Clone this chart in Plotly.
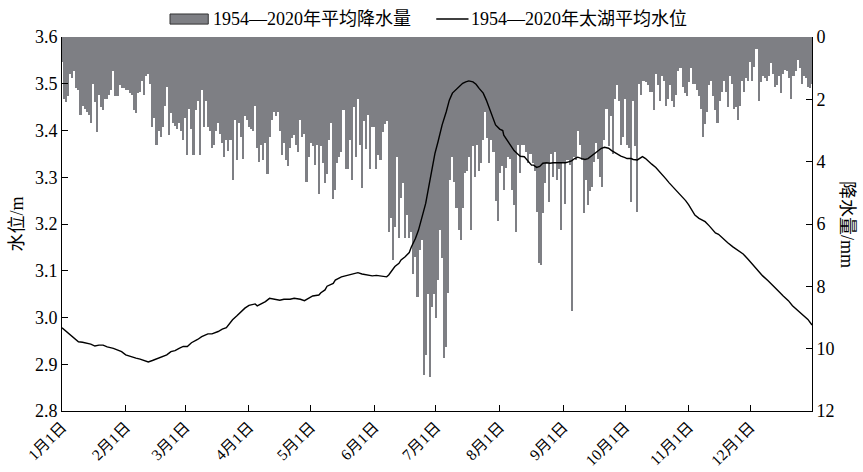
import plotly.graph_objects as go

# Daily mean precipitation (mm), day-of-year 1..366
precip = [
    0.8, 2.0, 2.1, 1.9, 1.2, 1.3, 1.1, 1.65, 1.7, 2.5,
    2.2, 2.3, 2.4, 2.5, 2.75, 1.5, 2.1, 3.05, 1.85, 2.25,
    2.35, 2.0, 2.0, 1.85, 1.7, 1.1, 1.9, 1.9, 1.55, 1.65,
    1.65, 1.7, 1.7, 1.8, 1.85, 2.35, 2.45, 1.8, 1.75, 1.4,
    1.85, 1.25, 1.2, 1.5, 2.9, 2.6, 3.45,
    3.0, 3.2, 2.9, 2.2, 1.6, 3.15, 2.45, 2.75, 2.85, 2.95,
    2.75, 3.0, 3.3, 2.6, 3.8, 2.3, 2.95, 3.8, 2.35,
    2.05, 3.8, 1.7, 2.9, 2.05, 2.9, 3.0, 3.55, 3.45, 3.0,
    2.75, 3.1, 3.4, 3.85, 3.3, 3.65, 3.3, 4.6, 2.65, 3.95,
    2.75, 3.2, 3.9, 2.55, 2.65, 2.9,
    2.95, 3.0, 2.2, 3.55, 4.0, 3.45, 3.95, 3.4, 4.4, 3.2,
    2.65, 2.4, 2.55, 2.4, 3.0, 3.8, 3.4, 3.95, 4.15, 3.55,
    3.25, 3.15, 3.45, 3.7, 2.65, 3.2, 3.1, 4.65, 3.85, 3.4,
    3.5, 4.1, 3.45, 5.05, 3.5, 4.05, 4.7, 4.4, 3.3, 2.75,
    5.2, 4.9, 4.05, 3.85, 3.7, 2.35,
    4.25, 4.25, 3.3, 4.6, 2.25, 3.85, 2.0, 3.45, 4.85, 2.7,
    3.6, 2.5, 4.25, 2.9, 2.9, 4.25, 3.8, 3.95, 3.05, 2.8,
    2.7, 6.25, 5.8, 7.15, 6.1, 3.85, 6.45, 5.15, 4.7, 6.45,
    5.7, 6.45, 6.25, 7.6, 7.05, 8.35, 6.85, 6.5, 10.85, 10.2,
    8.25, 10.9, 8.65, 8.25, 9.0, 7.8,
    6.2, 7.1, 10.3, 9.95, 8.2, 4.6, 3.85, 4.65, 5.5, 6.2,
    6.5, 5.5, 4.35, 4.3, 3.85, 6.2, 3.5, 4.5, 3.45,
    4.3, 4.05, 3.3, 2.4, 3.25, 4.05, 3.3, 3.7, 5.25, 5.9,
    4.35, 4.15, 4.9, 4.2, 3.85, 3.9, 4.9, 5.4, 6.25, 3.45,
    4.35, 3.45, 3.45, 3.7, 4.05,
    3.75, 4.05, 4.3, 5.6, 7.25, 7.3, 5.65, 4.7, 4.0, 5.3,
    3.75, 4.5, 3.7, 4.6, 4.25, 6.2, 4.05, 5.35, 3.95, 4.1,
    8.8, 3.85, 3.95, 3.0, 3.45, 3.95, 5.65, 4.6, 5.4, 4.95,
    4.8, 4.0, 3.4, 3.9, 4.5, 4.8, 3.3, 2.3, 3.5, 2.55,
    3.75, 2.0, 1.55, 2.05, 3.45, 3.2, 2.0,
    3.45, 3.55, 5.3, 2.05, 3.5, 5.6, 1.5, 1.85, 1.4, 1.45,
    1.55, 1.75, 1.75, 2.35, 1.2, 1.55, 2.05, 1.25, 1.4, 2.2,
    2.0, 1.55, 2.05, 2.25, 1.85, 1.1, 1.0, 1.6, 1.8, 1.9,
    1.45, 1.0, 1.5, 1.5, 1.7, 1.9, 2.3, 3.2, 2.8, 2.4,
    1.55, 1.4, 1.9, 2.35, 2.75, 2.05,
    1.75, 1.4, 1.75, 2.25, 1.25, 1.5, 2.3, 2.25, 2.65, 2.2,
    1.4, 1.75, 1.3, 1.4, 0.8, 1.4, 0.95, 0.4, 2.05,
    1.45, 1.25, 1.3, 1.4, 1.25, 0.85, 1.2, 1.6, 1.55, 1.25,
    1.8, 1.2, 1.05, 1.1, 1.3, 2.0, 1.25, 1.1, 0.75, 1.0,
    1.5, 1.25, 1.3, 1.6, 1.65, 1.5,
]
precip_days = list(range(1, len(precip) + 1))

# Mean Taihu water level (m) by day-of-year
level_days = [
    1, 3, 6, 9, 11, 13, 15, 17, 19, 21, 23, 26, 28, 30, 32, 35, 37, 39, 41, 43,
    45, 48, 51, 52, 54, 56, 58, 60, 62, 64, 67, 69, 72, 74, 77, 79, 81, 82, 84, 86,
    88, 90, 92, 93, 95, 96, 98, 100, 102, 104, 107, 109, 112, 114, 117, 119, 121, 123, 126, 127,
    129, 130, 133, 134, 137, 140, 142, 145, 147, 149, 152, 154, 157, 159, 160, 162, 163, 165, 166, 168,
    170, 171, 173, 174.5, 176, 178, 179.5, 181, 182.5, 184, 186, 188, 189.5, 191, 193, 194, 196, 197.5, 199, 201,
    202.5, 204, 206, 207.5, 209, 210.5, 212, 214, 215.5, 216, 218, 219.5, 221, 222.5, 224, 226, 227.5, 229.5, 230.5, 232,
    233.5, 235, 237, 238.5, 240, 242, 244, 246, 247.5, 249, 250.5, 252, 254, 255.5, 257, 258.5, 260, 262, 263.5, 265,
    267, 268.5, 270, 271.5, 273, 275, 276, 278, 279, 281, 282, 283.5, 285, 286.5, 288, 290, 291.5, 293, 295, 296.5,
    298, 299.5, 301, 303, 304.5, 306, 307.5, 309, 311, 312.5, 314, 316, 317.5, 319, 320.5, 322.5, 325, 327.5, 330, 332.5,
    335, 337.5, 340, 342, 344.5, 347, 349.5, 352, 354.5, 356.5, 359, 361.5, 364, 366,
]
level = [
    2.978, 2.970, 2.959, 2.948, 2.947, 2.945, 2.943, 2.939, 2.941, 2.941, 2.937, 2.934, 2.930, 2.927, 2.920, 2.915, 2.913, 2.911, 2.908, 2.905,
    2.908, 2.913, 2.918, 2.920, 2.927, 2.929, 2.934, 2.938, 2.938, 2.946, 2.953, 2.959, 2.965, 2.965, 2.970, 2.975, 2.978, 2.984, 2.995, 3.003,
    3.012, 3.020, 3.026, 3.027, 3.029, 3.025, 3.029, 3.034, 3.041, 3.039, 3.037, 3.039, 3.039, 3.041, 3.039, 3.036, 3.041, 3.046, 3.048, 3.053,
    3.059, 3.067, 3.073, 3.080, 3.087, 3.091, 3.093, 3.096, 3.093, 3.091, 3.089, 3.090, 3.089, 3.087, 3.091, 3.103, 3.109, 3.116, 3.123, 3.130,
    3.139, 3.151, 3.169, 3.187, 3.212, 3.244, 3.280, 3.316, 3.351, 3.376, 3.412, 3.440, 3.465, 3.480, 3.488, 3.494, 3.501, 3.504, 3.506, 3.504,
    3.499, 3.490, 3.480, 3.465, 3.447, 3.430, 3.412, 3.403, 3.400, 3.390, 3.376, 3.365, 3.357, 3.351, 3.345, 3.344, 3.337, 3.326, 3.326, 3.321,
    3.323, 3.330, 3.331, 3.330, 3.331, 3.331, 3.330, 3.331, 3.333, 3.335, 3.340, 3.343, 3.340, 3.338, 3.340, 3.345, 3.351, 3.357, 3.362, 3.364,
    3.362, 3.357, 3.353, 3.350, 3.345, 3.342, 3.340, 3.340, 3.338, 3.337, 3.340, 3.344, 3.340, 3.333, 3.328, 3.321, 3.314, 3.305, 3.296, 3.288,
    3.281, 3.274, 3.267, 3.258, 3.250, 3.241, 3.230, 3.219, 3.212, 3.209, 3.205, 3.196, 3.189, 3.181, 3.178, 3.169, 3.160, 3.151, 3.143, 3.136,
    3.124, 3.112, 3.098, 3.089, 3.079, 3.067, 3.057, 3.046, 3.036, 3.025, 3.016, 3.007, 2.996, 2.984,
]

# Month-start ticks (leap-year day numbers)
month_days = [1, 32, 61, 92, 122, 153, 183, 214, 245, 275, 306, 336]
month_labels = [f"{m}月1日" for m in range(1, 13)]

level_ticks = [2.8, 2.9, 3.0, 3.1, 3.2, 3.3, 3.4, 3.5, 3.6]
precip_ticks = [0, 2, 4, 6, 8, 10, 12]

precip_name = "1954—2020年平均降水量"
level_name = "1954—2020年太湖平均水位"

FONT = "Liberation Serif, Times New Roman, Noto Sans CJK SC, serif"
BAR_COLOR = "#7e7f84"
FS = 18

fig = go.Figure()
fig.add_trace(go.Bar(
    x=precip_days, y=precip, name=precip_name,
    marker=dict(color=BAR_COLOR, line=dict(width=0)),
    width=1.0, yaxis="y", showlegend=False,
))
fig.add_trace(go.Scatter(
    x=level_days, y=level, name=level_name,
    mode="lines", line=dict(color="black", width=1.4),
    yaxis="y2", showlegend=False,
))

# Key above the plot: swatch + label for each series
LEG_Y = 1.048
shapes = [
    dict(type="rect", xref="paper", yref="paper",
         x0=0.144, x1=0.195, y0=LEG_Y - 0.0135, y1=LEG_Y + 0.0135,
         fillcolor=BAR_COLOR, line=dict(color="#333333", width=1)),
    dict(type="line", xref="paper", yref="paper",
         x0=0.499, x1=0.542, y0=LEG_Y, y1=LEG_Y,
         line=dict(color="black", width=1.4)),
]
annotations = [
    dict(text=precip_name, xref="paper", yref="paper", x=0.199, y=LEG_Y,
         xanchor="left", yanchor="middle", showarrow=False,
         font=dict(family=FONT, size=FS)),
    dict(text=level_name, xref="paper", yref="paper", x=0.543, y=LEG_Y,
         xanchor="left", yanchor="middle", showarrow=False,
         font=dict(family=FONT, size=FS)),
    dict(text="降水量/mm", xref="paper", yref="paper", x=1.0, y=0.5,
         xshift=47, textangle=90, showarrow=False,
         font=dict(family=FONT, size=FS)),
]

fig.update_layout(
    width=863, height=472,
    margin=dict(l=62, r=51, t=37, b=61, autoexpand=False),
    paper_bgcolor="white", plot_bgcolor="white",
    font=dict(family=FONT, size=FS, color="black"),
    bargap=0,
    showlegend=False,
    xaxis=dict(
        range=[1, 366], tickvals=month_days, ticktext=month_labels,
        tickangle=-45, ticks="inside", ticklen=6, tickcolor="black",
        showline=True, linecolor="black", linewidth=1,
        showgrid=False, zeroline=False, automargin=False,
        tickfont=dict(family=FONT, size=15.5),
    ),
    yaxis=dict(
        side="right", range=[12, 0], tickvals=precip_ticks,
        ticks="inside", ticklen=6, tickcolor="black",
        showline=True, linecolor="black", linewidth=1,
        showgrid=False, zeroline=False, automargin=False,
        tickfont=dict(family=FONT, size=FS),
    ),
    yaxis2=dict(
        side="left", overlaying="y", range=[2.8, 3.6],
        tickvals=level_ticks, tickformat=".1f",
        ticks="inside", ticklen=6, tickcolor="black",
        showline=True, linecolor="black", linewidth=1,
        showgrid=False, zeroline=False, automargin=False,
        tickfont=dict(family=FONT, size=FS),
        title=dict(text="水位/m", font=dict(family=FONT, size=FS), standoff=6),
    ),
    shapes=shapes,
    annotations=annotations,
)

fig.write_html("out.html")
